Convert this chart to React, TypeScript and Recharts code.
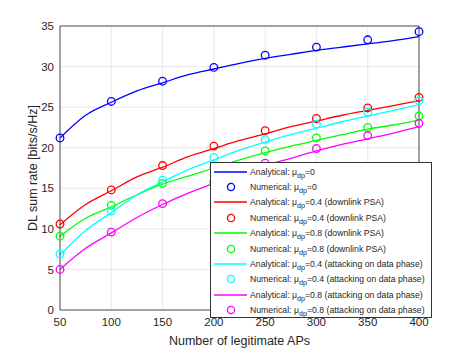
import React from "react";
import {
  ComposedChart,
  Line,
  XAxis,
  YAxis,
  CartesianGrid,
  Legend,
  ReferenceLine,
  Label,
} from "recharts";

// x positions of the analytical curves and of the simulated points
const xFine = [50, 75, 100, 125, 150, 175, 200, 225, 250, 275, 300, 325, 350, 375, 400];
const xTicks = [50, 100, 150, 200, 250, 300, 350, 400];
const yTicks = [0, 5, 10, 15, 20, 25, 30, 35];

const anaMu0 = [21.2, 24.0, 25.6, 27.0, 28.0, 29.0, 29.7, 30.4, 31.0, 31.5, 32.0, 32.4, 32.8, 33.2, 33.7];
const anaMu04 = [10.5, 13.0, 14.7, 16.4, 17.6, 18.9, 19.9, 20.9, 21.7, 22.6, 23.3, 24.0, 24.6, 25.2, 25.8];
const anaMu08 = [9.1, 11.3, 12.7, 14.2, 15.5, 16.5, 17.5, 18.5, 19.4, 20.2, 20.9, 21.6, 22.3, 22.8, 23.4];
const anaMu04Data = [6.8, 9.8, 12.0, 14.2, 15.8, 17.3, 18.5, 19.7, 20.7, 21.6, 22.4, 23.2, 23.9, 24.6, 25.3];
const anaMu08Data = [5.0, 7.6, 9.5, 11.4, 13.0, 14.4, 15.6, 16.8, 17.8, 18.7, 19.6, 20.4, 21.1, 21.8, 22.6];

const numMu0 = [21.2, 25.7, 28.2, 29.9, 31.4, 32.4, 33.3, 34.3];
const numMu04 = [10.6, 14.8, 17.8, 20.2, 22.1, 23.6, 24.9, 26.2];
const numMu08 = [9.1, 12.9, 15.6, 17.6, 19.6, 21.2, 22.5, 23.9];
const numMu04Data = [6.9, 12.2, 16.0, 18.8, 21.0, 22.9, 24.4, 25.8];
const numMu08Data = [5.0, 9.6, 13.1, 15.8, 18.1, 19.9, 21.5, 23.0];

const series = [
  { key: "mu0", color: "#0000ff", mu: "0", suffix: "", ana: anaMu0, num: numMu0 },
  { key: "mu04", color: "#ff0000", mu: "0.4", suffix: " (downlink PSA)", ana: anaMu04, num: numMu04 },
  { key: "mu08", color: "#00ff00", mu: "0.8", suffix: " (downlink PSA)", ana: anaMu08, num: numMu08 },
  { key: "mu04d", color: "#00ffff", mu: "0.4", suffix: " (attacking on data phase)", ana: anaMu04Data, num: numMu04Data },
  { key: "mu08d", color: "#ff00ff", mu: "0.8", suffix: " (attacking on data phase)", ana: anaMu08Data, num: numMu08Data },
];

const data = xFine.map((x, i) => {
  const row: any = { x };
  series.forEach((s) => {
    row["a_" + s.key] = s.ana[i];
    const j = xTicks.indexOf(x);
    row["n_" + s.key] = j >= 0 ? s.num[j] : null;
  });
  return row;
});

const font = "'Liberation Sans', Arial, sans-serif";
const textColor = "#262626";

const LegendBox = () => (
  <div
    style={{
      background: "#fff",
      border: "1px solid #333",
      boxSizing: "border-box",
      width: 222,
      height: 156,
      padding: "1px 0 0 0",
      fontFamily: font,
      fontSize: 8.7,
      color: textColor,
      overflow: "hidden",
    }}
  >
    {series.map((s) =>
      ["Analytical", "Numerical"].map((kind) => (
        <div key={s.key + kind} style={{ display: "flex", alignItems: "center", height: 15.4 }}>
          <svg width={39} height={12} style={{ flex: "none" }}>
            {kind === "Analytical" ? (
              <line x1={3} y1={6} x2={36} y2={6} stroke={s.color} strokeWidth={1.3} />
            ) : (
              <circle cx={20} cy={6} r={3.6} fill="none" stroke={s.color} strokeWidth={1.3} />
            )}
          </svg>
          <span style={{ whiteSpace: "nowrap", lineHeight: "12px" }}>
            {kind}: μ<sub style={{ fontSize: 7.2, verticalAlign: -3, lineHeight: 0 }}>dp</sub>={s.mu}
            {s.suffix}
          </span>
        </div>
      ))
    )}
  </div>
);

export default function App() {
  return (
    <div style={{ position: "absolute", left: 0, top: 0, background: "#fff" }}>
      <ComposedChart
        width={463}
        height={348}
        data={data}
        margin={{ top: 26, right: 44, bottom: 0, left: 20 }}
      >
        <CartesianGrid stroke="#e3e3e3" strokeWidth={0.8} />
        <XAxis
          dataKey="x"
          type="number"
          domain={[50, 400]}
          ticks={xTicks}
          height={38}
          tickLine={false}
          stroke={textColor}
          strokeWidth={0.8}
          tick={{ fill: textColor, fontSize: 11.5, fontFamily: font }}
          interval={0}
        >
          <Label
            value="Number of legitimate APs"
            position="insideBottom"
            offset={3}
            style={{ fill: textColor, fontSize: 12.5, fontFamily: font }}
          />
        </XAxis>
        <YAxis
          type="number"
          domain={[0, 35]}
          ticks={yTicks}
          width={40}
          tickLine={false}
          tickMargin={0}
          stroke={textColor}
          strokeWidth={0.8}
          tick={{ fill: textColor, fontSize: 11.5, fontFamily: font }}
          interval={0}
        >
          <Label
            value="DL sum rate [bits/s/Hz]"
            angle={-90}
            position="insideLeft"
            offset={13}
            style={{ fill: textColor, fontSize: 12.5, fontFamily: font, textAnchor: "middle" }}
          />
        </YAxis>
        <ReferenceLine y={35} stroke={textColor} strokeWidth={0.8} />
        <ReferenceLine x={400} stroke={textColor} strokeWidth={0.8} />
        {series.map((s) => (
          <Line
            key={"a_" + s.key}
            type="monotone"
            dataKey={"a_" + s.key}
            stroke={s.color}
            strokeWidth={1.3}
            dot={false}
            activeDot={false}
            isAnimationActive={false}
          />
        ))}
        {series.map((s) => (
          <Line
            key={"n_" + s.key}
            dataKey={"n_" + s.key}
            stroke="none"
            dot={{ r: 3.8, fill: "none", stroke: s.color, strokeWidth: 1.3 }}
            activeDot={false}
            isAnimationActive={false}
          />
        ))}
        <Legend
          layout="vertical"
          align="center"
          verticalAlign="middle"
          wrapperStyle={{ left: 210, top: 162, width: 222, height: 156 }}
          content={() => <LegendBox />}
        />
      </ComposedChart>
    </div>
  );
}
